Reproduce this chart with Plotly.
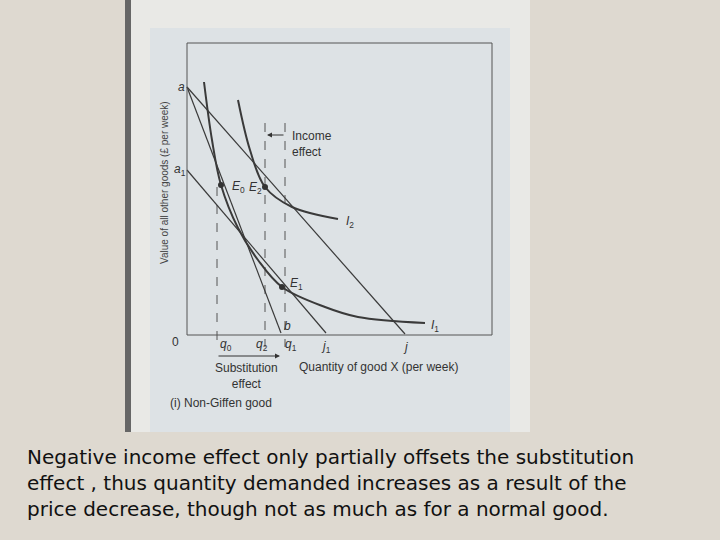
import plotly.graph_objects as go

# pixel canvas coordinates (x right, y down)
budget_x = [187, 281]          # a -> b (new price, compensated)
budget_y = [87, 333]
budget2_x = [187, 405]         # a -> j
budget2_y = [87, 334]
budget3_x = [187, 326]         # a1 -> j1
budget3_y = [170, 333]
i1_x = [204, 212, 221, 238, 258, 282, 325, 358, 425]
i1_y = [82, 140, 185, 228, 260, 287, 307, 317, 323]
i2_x = [238, 250, 265, 292, 338]
i2_y = [100, 150, 187, 207, 219]
points_x = [221, 265, 282]
points_y = [185, 187, 287]
dashed_x = [217, 265, 285]
dashed_top = [187, 123, 123]

line_col = "#3a3a3a"
fig = go.Figure()

# background panels
fig.add_shape(type="rect", x0=125, x1=530, y0=0, y1=432, fillcolor="#e9e9e6", line_width=0, layer="below")
fig.add_shape(type="rect", x0=125, x1=131, y0=0, y1=432, fillcolor="#666666", line_width=0, layer="below")
fig.add_shape(type="rect", x0=150, x1=510, y0=28, y1=432, fillcolor="#dde2e5", line_width=0, layer="below")
fig.add_shape(type="rect", x0=187, x1=492, y0=43, y1=335, fillcolor="rgba(0,0,0,0)",
              line=dict(color="#555", width=1))

for x, top in zip(dashed_x, dashed_top):
    fig.add_trace(go.Scatter(x=[x, x], y=[top, 347], mode="lines",
                             line=dict(color="#555", width=1, dash="dash"), showlegend=False))

for xs, ys in [(budget_x, budget_y), (budget2_x, budget2_y), (budget3_x, budget3_y)]:
    fig.add_trace(go.Scatter(x=xs, y=ys, mode="lines", line=dict(color=line_col, width=1.2), showlegend=False))
for xs, ys in [(i1_x, i1_y), (i2_x, i2_y)]:
    fig.add_trace(go.Scatter(x=xs, y=ys, mode="lines", line=dict(color=line_col, width=2, shape="spline"),
                             showlegend=False))
fig.add_trace(go.Scatter(x=points_x, y=points_y, mode="markers", marker=dict(color="#333", size=6),
                         showlegend=False))

fig.add_annotation(x=267, y=135, ax=285, ay=135, xref="x", yref="y", axref="x", ayref="y",
                   showarrow=True, arrowhead=2, arrowsize=1, arrowwidth=1, arrowcolor="#333", text="")
fig.add_annotation(x=280, y=356, ax=217, ay=356, xref="x", yref="y", axref="x", ayref="y",
                   showarrow=True, arrowhead=2, arrowsize=1, arrowwidth=1, arrowcolor="#333", text="")

f = dict(family="Liberation Sans Narrow, Liberation Sans, sans-serif", size=12, color="#333")
labels = [
    (290, 144, "Income<br>effect", "left"), (230, 187, "<i>E</i><sub>0</sub>", "left"),
    (255, 188, "<i>E</i><sub>2</sub>", "center"), (350, 222, "<i>I</i><sub>2</sub>", "center"),
    (296, 284, "<i>E</i><sub>1</sub>", "center"), (435, 326, "<i>I</i><sub>1</sub>", "center"),
    (287, 326, "<i>b</i>", "center"), (175, 342, "0", "center"), (226, 345, "<i>q</i><sub>0</sub>", "center"),
    (262, 345, "<i>q</i><sub>2</sub>", "center"), (291, 345, "<i>q</i><sub>1</sub>", "center"),
    (326, 347, "<i>j</i><sub>1</sub>", "center"), (405, 347, "<i>j</i>", "center"),
    (181, 87, "<i>a</i>", "center"), (180, 170, "<i>a</i><sub>1</sub>", "center"),
    (246, 376, "Substitution<br>effect", "center"), (221, 403, "(i) Non-Giffen good", "center"),
    (378, 367, "Quantity of good X (per week)", "center"),
]
for x, y, t, al in labels:
    fig.add_annotation(x=x, y=y, text=t, showarrow=False, font=f, xanchor=al, align=al)
fig.add_annotation(x=164, y=183, text="Value of all other goods (£ per week)", textangle=-90,
                   showarrow=False, font=dict(family="Liberation Sans", size=10, color="#444"))

fig.add_annotation(x=25, y=483, xanchor="left", align="left", showarrow=False,
                   text="Negative income effect only partially offsets the substitution<br>"
                        "effect , thus quantity demanded increases as a result of the<br>"
                        "price decrease, though not as much as for a normal good.",
                   font=dict(family="DejaVu Sans", size=20, color="#111"))

fig.update_layout(
    width=720, height=540, margin=dict(l=0, r=0, t=0, b=0),
    paper_bgcolor="#ded9d0", plot_bgcolor="#ded9d0",
    xaxis=dict(range=[0, 720], visible=False, fixedrange=True),
    yaxis=dict(range=[540, 0], visible=False, fixedrange=True),
)
fig.write_html("out.html", post_script="document.body.style.margin='0';",
               config={"displayModeBar": False})
